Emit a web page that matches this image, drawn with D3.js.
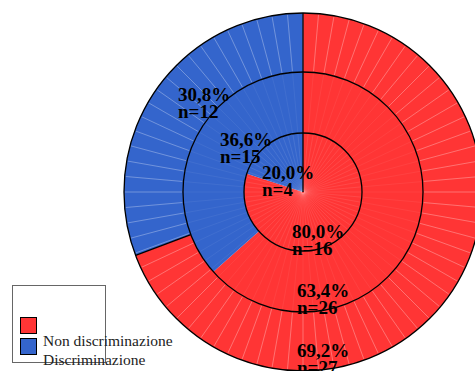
<!DOCTYPE html>
<html>
<head>
<meta charset="utf-8">
<script src="https://cdn.jsdelivr.net/npm/d3@7"></script>
<style>
  html, body { margin: 0; padding: 0; background: #fff; overflow: hidden; }
  svg { display: block; }
</style>
</head>
<body>
<svg id="chart" width="475" height="371"></svg>
<script>
// Categories and counts per ring (inner to outer)
const categories = ["Non discriminazione", "Discriminazione"];
const innerCounts = [16, 4];
const middleCounts = [26, 15];
const outerCounts = [27, 12];

const colors = ["#ff3535", "#3465cc"];

const width = 475, height = 371;
const cx = 303, cy = 192;
const radii = [0, 59, 120, 179];

const svg = d3.select("#chart");
const g = svg.append("g").attr("transform", `translate(${cx},${cy})`);

const pie = d3.pie().sort(null).value(d => d);
const fmt = v => d3.format(".1f")(v).replace(".", ",") + "%";

const rings = [innerCounts, middleCounts, outerCounts];

// Colored wedges
rings.forEach((counts, i) => {
  const arc = d3.arc().innerRadius(radii[i]).outerRadius(radii[i + 1]);
  g.selectAll(null)
    .data(pie(counts))
    .enter().append("path")
    .attr("d", arc)
    .attr("fill", (d, j) => colors[j]);
});

// Faint radial facet lines inside each ring
const facetOpacity = [0.12, 0.08, 0.38];
rings.forEach((counts, i) => {
  const n = 72;
  const angles = d3.range(n).map(k => k * 2 * Math.PI / n);
  g.selectAll(null)
    .data(angles)
    .enter().append("line")
    .attr("x1", a => Math.sin(a) * (radii[i] + 1))
    .attr("y1", a => -Math.cos(a) * (radii[i] + 1))
    .attr("x2", a => Math.sin(a) * (radii[i + 1] - 1))
    .attr("y2", a => -Math.cos(a) * (radii[i + 1] - 1))
    .attr("stroke", "#fff")
    .attr("stroke-opacity", facetOpacity[i])
    .attr("stroke-width", 0.8);
});

// Ring outlines
radii.slice(1).forEach(r => {
  g.append("circle").attr("r", r)
    .attr("fill", "none").attr("stroke", "#000").attr("stroke-width", 1.3);
});

// Radial boundary at the start angle, and the outer-ring category boundary
g.append("line")
  .attr("x1", 0).attr("y1", 0).attr("x2", 0).attr("y2", -radii[3])
  .attr("stroke", "#000").attr("stroke-width", 1.3);
const outerSplit = pie(outerCounts)[1].startAngle;
g.append("line")
  .attr("x1", Math.sin(outerSplit) * radii[2]).attr("y1", -Math.cos(outerSplit) * radii[2])
  .attr("x2", Math.sin(outerSplit) * radii[3]).attr("y2", -Math.cos(outerSplit) * radii[3])
  .attr("stroke", "#000").attr("stroke-width", 1.3);

// Value labels: left edge / first baseline offsets from centre, per ring and category
const labelOffsets = [
  [[-11, 46], [-41, -13]],
  [[-6, 105], [-83, -46]],
  [[-6, 165], [-125, -91]]
];
rings.forEach((counts, i) => {
  const total = d3.sum(counts);
  counts.forEach((c, j) => {
    const [dx, dy] = labelOffsets[i][j];
    const t = g.append("text")
      .attr("x", dx).attr("y", dy)
      .attr("font-family", "'Liberation Serif', 'Times New Roman', serif")
      .attr("font-weight", "bold")
      .attr("font-size", 19)
      .attr("fill", "#000");
    t.append("tspan").attr("x", dx).attr("y", dy).text(fmt(c / total * 100));
    t.append("tspan").attr("x", dx).attr("y", dy + 17).text("n=" + c);
  });
});

// Legend
const legend = svg.append("g");
legend.append("rect")
  .attr("x", 12.5).attr("y", 285.5).attr("width", 93).attr("height", 77)
  .attr("fill", "none").attr("stroke", "#666").attr("stroke-width", 1);
categories.forEach((name, j) => {
  legend.append("rect")
    .attr("x", 20.5).attr("y", 317.5 + j * 21).attr("width", 16).attr("height", 16)
    .attr("fill", colors[j]).attr("stroke", "#000").attr("stroke-width", 1);
  legend.append("text")
    .attr("x", 43).attr("y", 346 + j * 19)
    .attr("font-family", "'Liberation Serif', 'Times New Roman', serif")
    .attr("font-size", 15.5)
    .attr("fill", "#222")
    .text(name);
});
</script>
</body>
</html>
